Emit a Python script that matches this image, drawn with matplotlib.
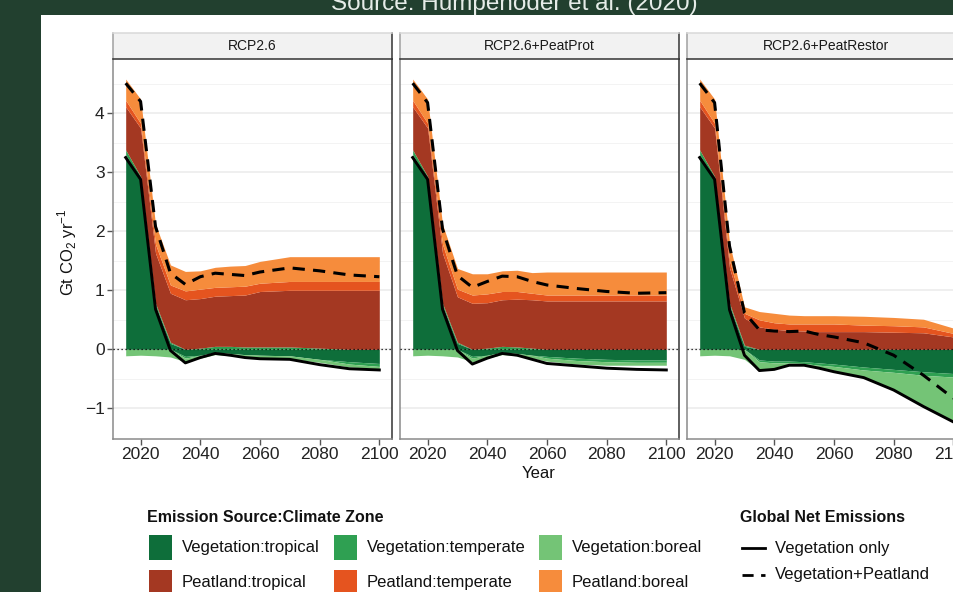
import numpy as np
import matplotlib
matplotlib.use('Agg')
import matplotlib.pyplot as plt
from matplotlib.patches import Rectangle
from matplotlib.lines import Line2D

plt.rcParams['font.family'] = ['Liberation Sans', 'DejaVu Sans']

# ---- data (Gt CO2 / yr) ----
years = [2015, 2020, 2025, 2030, 2035, 2040, 2045, 2050, 2055, 2060, 2070, 2080, 2090, 2100]
scenarios = ['RCP2.6', 'RCP2.6+PeatProt', 'RCP2.6+PeatRestor']

veg_tropical = {
    'RCP2.6':            [3.30, 2.86, 0.74, 0.10, -0.12, -0.10, -0.05, -0.07, -0.09, -0.10, -0.11, -0.17, -0.21, -0.24],
    'RCP2.6+PeatProt':   [3.30, 2.86, 0.74, 0.10, -0.12, -0.10, -0.05, -0.07, -0.10, -0.12, -0.15, -0.17, -0.18, -0.18],
    'RCP2.6+PeatRestor': [3.30, 2.86, 0.74, 0.05, -0.18, -0.20, -0.20, -0.21, -0.23, -0.25, -0.30, -0.34, -0.38, -0.41],
}
veg_temperate = {
    'RCP2.6':            [0.08, 0.07, 0.04, 0.02, -0.03, 0.02, 0.05, 0.05, 0.04, 0.04, 0.04, 0.02, -0.04, -0.05],
    'RCP2.6+PeatProt':   [0.08, 0.07, 0.04, 0.02, -0.03, 0.02, 0.05, 0.04, 0.02, -0.03, -0.04, -0.04, -0.04, -0.04],
    'RCP2.6+PeatRestor': [0.08, 0.07, 0.04, 0.02, -0.03, -0.03, -0.03, -0.03, -0.04, -0.04, -0.05, -0.05, -0.06, -0.06],
}
veg_boreal = {
    'RCP2.6':            [-0.11, -0.10, -0.11, -0.13, -0.06, -0.05, -0.04, -0.04, -0.04, -0.05, -0.05, -0.05, -0.05, -0.04],
    'RCP2.6+PeatProt':   [-0.11, -0.10, -0.11, -0.13, -0.06, -0.05, -0.04, -0.04, -0.05, -0.05, -0.06, -0.06, -0.05, -0.05],
    'RCP2.6+PeatRestor': [-0.11, -0.10, -0.11, -0.17, -0.15, -0.11, -0.04, -0.03, -0.05, -0.09, -0.13, -0.30, -0.53, -0.76],
}
peat_tropical = {
    'RCP2.6':            [0.73, 0.82, 0.85, 0.83, 0.84, 0.84, 0.85, 0.86, 0.88, 0.94, 0.96, 0.98, 1.00, 1.00],
    'RCP2.6+PeatProt':   [0.73, 0.82, 0.85, 0.77, 0.78, 0.77, 0.79, 0.81, 0.82, 0.82, 0.82, 0.82, 0.82, 0.82],
    'RCP2.6+PeatRestor': [0.73, 0.82, 0.60, 0.46, 0.38, 0.34, 0.32, 0.31, 0.30, 0.30, 0.30, 0.29, 0.28, 0.21],
}
peat_temperate = {
    'RCP2.6':            [0.11, 0.08, 0.15, 0.14, 0.15, 0.16, 0.15, 0.15, 0.15, 0.14, 0.15, 0.15, 0.15, 0.15],
    'RCP2.6+PeatProt':   [0.11, 0.08, 0.15, 0.13, 0.14, 0.15, 0.14, 0.13, 0.11, 0.10, 0.10, 0.10, 0.10, 0.10],
    'RCP2.6+PeatRestor': [0.11, 0.08, 0.12, 0.08, 0.12, 0.11, 0.11, 0.12, 0.13, 0.13, 0.11, 0.11, 0.10, 0.06],
}
peat_boreal = {
    'RCP2.6':            [0.36, 0.41, 0.34, 0.34, 0.33, 0.31, 0.34, 0.35, 0.35, 0.37, 0.42, 0.42, 0.42, 0.42],
    'RCP2.6+PeatProt':   [0.36, 0.41, 0.34, 0.35, 0.36, 0.34, 0.35, 0.36, 0.35, 0.39, 0.39, 0.39, 0.39, 0.39],
    'RCP2.6+PeatRestor': [0.36, 0.41, 0.30, 0.11, 0.14, 0.16, 0.15, 0.14, 0.14, 0.14, 0.15, 0.14, 0.13, 0.09],
}
# global net emissions lines
net_veg = {
    'RCP2.6':            [3.25, 2.88, 0.68, -0.02, -0.23, -0.14, -0.07, -0.10, -0.14, -0.16, -0.17, -0.26, -0.33, -0.35],
    'RCP2.6+PeatProt':   [3.25, 2.88, 0.68, -0.02, -0.25, -0.15, -0.07, -0.10, -0.17, -0.24, -0.28, -0.32, -0.34, -0.35],
    'RCP2.6+PeatRestor': [3.25, 2.88, 0.67, -0.10, -0.36, -0.34, -0.27, -0.27, -0.32, -0.38, -0.48, -0.69, -0.97, -1.23],
}
net_veg_peat = {
    'RCP2.6':            [4.51, 4.20, 2.08, 1.29, 1.10, 1.23, 1.29, 1.27, 1.25, 1.31, 1.38, 1.33, 1.26, 1.23],
    'RCP2.6+PeatProt':   [4.51, 4.18, 2.04, 1.25, 1.05, 1.15, 1.24, 1.23, 1.15, 1.09, 1.03, 0.98, 0.95, 0.96],
    'RCP2.6+PeatRestor': [4.51, 4.18, 1.75, 0.62, 0.33, 0.31, 0.30, 0.31, 0.25, 0.21, 0.11, -0.10, -0.44, -0.83],
}

components = [veg_tropical, veg_temperate, veg_boreal, peat_tropical, peat_temperate, peat_boreal]
comp_labels = ['Vegetation:tropical', 'Vegetation:temperate', 'Vegetation:boreal',
               'Peatland:tropical', 'Peatland:temperate', 'Peatland:boreal']
comp_colors = ['#0e6e3a', '#2fa052', '#74c476', '#a43822', '#e5541f', '#f68c3c']

DASH = (0, (4.0, 2.7))

# ---- figure ----
W, H = 954, 592
fig = plt.figure(figsize=(W / 100, H / 100), dpi=100, facecolor='#22402f')


def box(x0, y0, x1, y1):
    # pixel box (top-left origin) -> figure fraction
    return [x0 / W, 1 - y1 / H, (x1 - x0) / W, (y1 - y0) / H]


def fy(y):
    return 1 - y / H


fig.patches.append(Rectangle((41 / W, 0), 1, fy(15), transform=fig.transFigure,
                             facecolor='white', edgecolor='none', zorder=-5))
fig.text(514 / W, fy(10), 'Source: Humpenöder et al. (2020)', ha='center', va='baseline',
         color='#e6ece8', fontsize=17.5)

lefts = [113, 400, 687]
pw = 279
for k, s in enumerate(scenarios):
    l = lefts[k]
    ax = fig.add_axes(box(l, 59, l + pw, 439))
    strip = fig.add_axes(box(l, 33, l + pw, 59))

    vals = np.array([c[s] for c in components])
    pos = np.clip(vals, 0, None)
    neg = np.clip(vals, None, 0)
    pos_cum = np.cumsum(pos, axis=0)
    neg_cum = np.cumsum(neg, axis=0)
    for i in range(len(components)):
        ax.fill_between(years, pos_cum[i] - pos[i], pos_cum[i], color=comp_colors[i], lw=0, zorder=2)
        ax.fill_between(years, neg_cum[i] - neg[i], neg_cum[i], color=comp_colors[i], lw=0, zorder=2)

    ax.axhline(0, color='black', lw=0.9, ls=(0, (1, 2.2)), zorder=3)
    ax.plot(years, net_veg[s], color='black', lw=2.1, zorder=4)
    ax.plot(years, net_veg_peat[s], color='black', lw=2.2, ls=DASH, zorder=4)

    ax.set_xlim(2010.75, 2104.25)
    ax.set_ylim(-1.52, 4.92)
    ax.set_xticks([2020, 2040, 2060, 2080, 2100])
    ax.set_yticks([-1, 0, 1, 2, 3, 4])
    ax.set_yticks(np.arange(-0.5, 4.6, 1), minor=True)
    ax.set_axisbelow(True)
    ax.grid(axis='y', which='major', color='#ebebeb', lw=1.1)
    ax.grid(axis='y', which='minor', color='#f3f3f3', lw=0.7)
    ax.tick_params(axis='x', length=4, width=1, color='#555555', labelsize=12.5,
                   labelcolor='#222222', pad=2)
    ax.tick_params(axis='y', which='minor', length=0)
    if k == 0:
        ax.tick_params(axis='y', length=4, width=1, color='#555555', labelsize=12.5,
                       labelcolor='#222222', pad=2)
    else:
        ax.tick_params(axis='y', length=0, labelleft=False)
    ax.spines['top'].set_visible(False)
    for side in ['left', 'bottom']:
        ax.spines[side].set_color('#8a8a8a')
        ax.spines[side].set_linewidth(1.1)
    ax.spines['right'].set_color('#333333')
    ax.spines['right'].set_linewidth(1.1)

    strip.set_facecolor('#f2f2f2')
    strip.set_xticks([])
    strip.set_yticks([])
    strip.spines['top'].set_color('#d9d9d9')
    strip.spines['left'].set_color('#a0a0a0')
    strip.spines['right'].set_color('#333333')
    strip.spines['bottom'].set_color('#333333')
    for sp in strip.spines.values():
        sp.set_linewidth(1.1)
    strip.text(0.5, 0.5, s, ha='center', va='center', fontsize=10, color='#1a1a1a',
               transform=strip.transAxes)

fig.text(67 / W, fy(252), r'Gt CO$_\mathregular{2}$ yr$^\mathregular{−1}$', rotation=90,
         ha='center', va='center', fontsize=12, color='#111111')
fig.text(539 / W, fy(474), 'Year', ha='center', va='center', fontsize=12, color='#111111')

# ---- legends ----
fig.text(147 / W, fy(518), 'Emission Source:Climate Zone', ha='left', va='center',
         fontsize=11.5, fontweight='bold', color='#111111')
col_x = [149, 334, 539]
row_y = [535, 570]
for i, (lab, col) in enumerate(zip(comp_labels, comp_colors)):
    x = col_x[i % 3]
    y = row_y[i // 3]
    fig.patches.append(Rectangle((x / W, fy(y + 25)), 23 / W, 25 / H, transform=fig.transFigure,
                                 facecolor=col, edgecolor='none'))
    fig.text((x + 33) / W, fy(y + 12.5), lab, ha='left', va='center', fontsize=12, color='#111111')

fig.text(740 / W, fy(518), 'Global Net Emissions', ha='left', va='center',
         fontsize=11.5, fontweight='bold', color='#111111')
for y, ls, lab in [(548, '-', 'Vegetation only'), (575, DASH, 'Vegetation+Peatland')]:
    fig.lines.append(Line2D([742 / W, 765 / W], [fy(y), fy(y)], transform=fig.transFigure,
                            color='black', lw=2.0, ls=ls))
    fig.text(775 / W, fy(y), lab, ha='left', va='center', fontsize=12, color='#111111')

fig.savefig('out.png', dpi=100, facecolor=fig.get_facecolor())
